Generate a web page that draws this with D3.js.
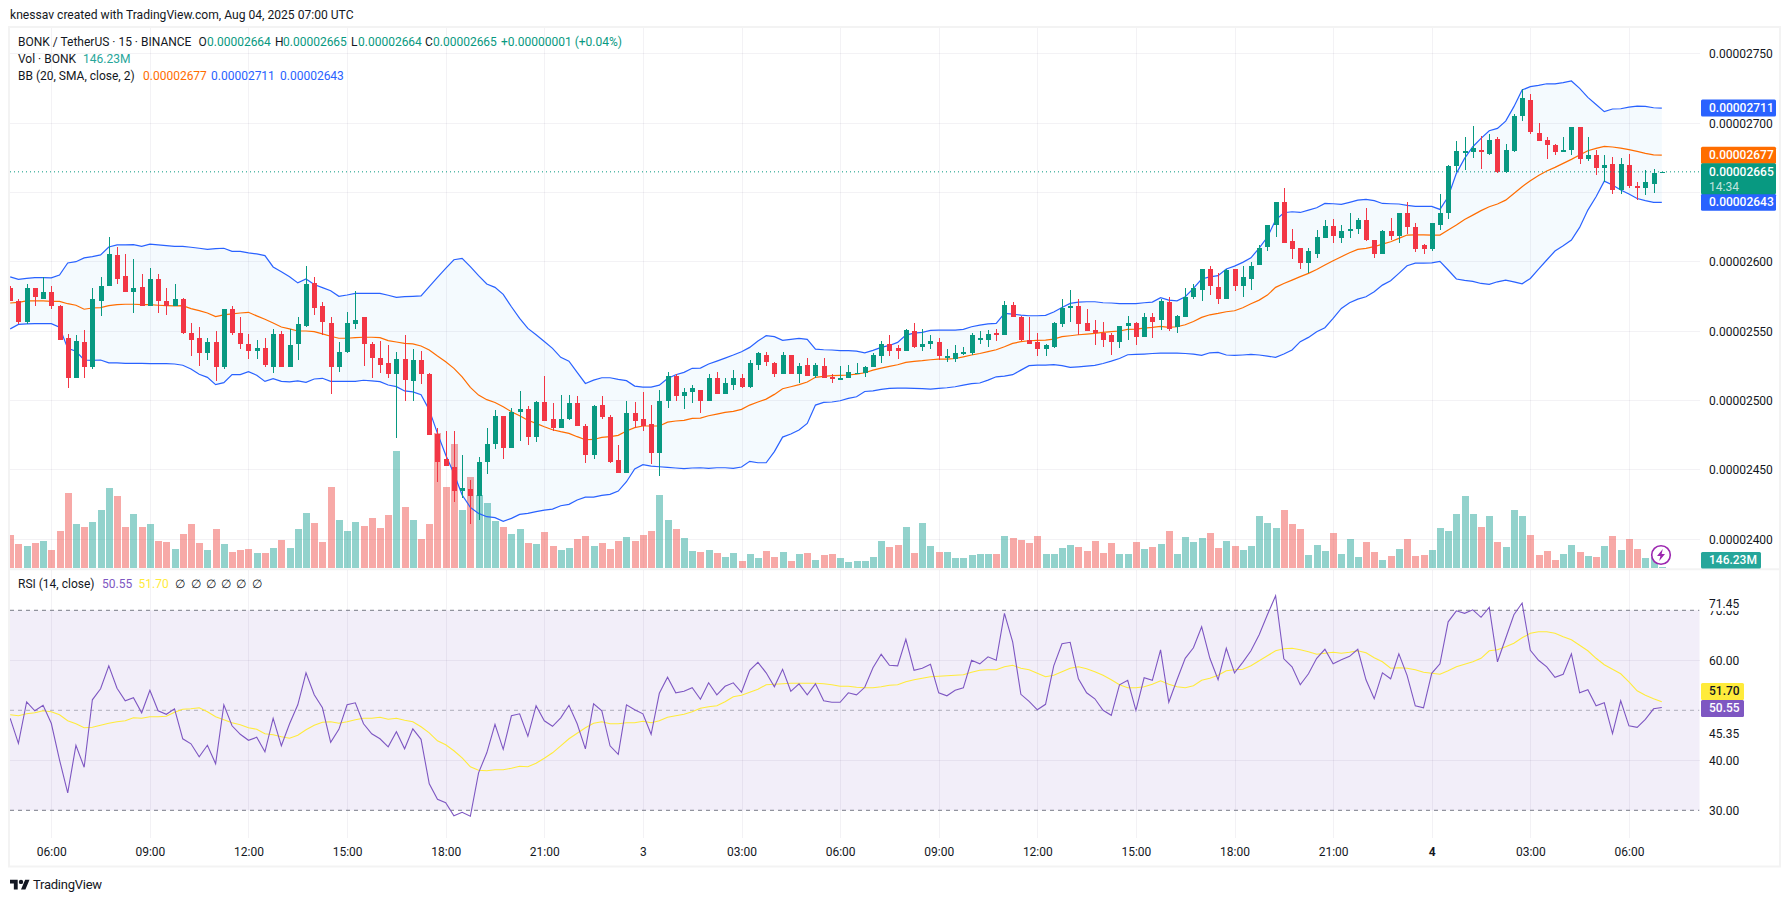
<!DOCTYPE html>
<html>
<head>
<meta charset="utf-8">
<title>BONK / TetherUS 15m</title>
<script src="https://cdnjs.cloudflare.com/ajax/libs/d3/7.8.5/d3.min.js"></script>
<style>
  html, body { margin: 0; padding: 0; background: #fff; }
  svg { display: block; }
  text { font-family: Roboto, "Noto Sans", sans-serif; }
</style>
</head>
<body>
<svg id="chart" width="1790" height="902"></svg>
<script>
// Prices are stored in units of 0.00000001 USDT; volumes in millions of BONK.
const openPrices = [
2581,2572,2557,2581,2573,2578,2568,2545,2516,2542,
2524,2572,2583,2605,2590,2578,2582,2568,2588,2572,
2568,2573,2549,2545,2534,2542,2524,2566,2549,2541,
2536,2538,2524,2548,2524,2541,2554,2585,2568,2556,
2524,2535,2555,2560,2541,2531,2527,2519,2530,2514,
2529,2519,2476,2458,2452,2435,2436,2431,2456,2469,
2489,2466,2492,2494,2474,2499,2487,2480,2487,2498,
2482,2461,2497,2488,2457,2448,2491,2487,2483,2462,
2500,2518,2503,2506,2508,2500,2516,2505,2511,2516,
2510,2526,2533,2527,2519,2533,2519,2526,2518,2525,
2517,2515,2516,2519,2520,2524,2532,2541,2538,2536,
2550,2539,2541,2542,2531,2530,2534,2534,2544,2544,
2549,2547,2569,2560,2544,2542,2537,2539,2555,2567,
2568,2556,2551,2549,2547,2542,2554,2556,2546,2560,
2558,2571,2553,2560,2575,2580,2595,2582,2573,2595,
2583,2588,2598,2611,2627,2643,2615,2610,2599,2606,
2617,2626,2617,2622,2624,2630,2616,2606,2622,2619,
2635,2625,2612,2609,2627,2635,2669,2679,2679,2681,
2678,2689,2665,2680,2705,2717,2693,2688,2684,2679,
2681,2697,2674,2677,2668,2671,2652,2670,2655,2653,
2656,2664];
const highPrices = [
2583,2573,2584,2581,2589,2583,2569,2548,2547,2551,
2581,2589,2618,2611,2606,2602,2591,2596,2591,2581,
2584,2574,2556,2553,2545,2550,2566,2568,2560,2548,
2544,2545,2552,2550,2552,2560,2597,2589,2571,2560,
2542,2564,2579,2560,2542,2543,2540,2535,2547,2537,
2536,2520,2480,2478,2478,2461,2443,2459,2480,2493,
2489,2495,2507,2496,2500,2518,2498,2504,2504,2503,
2483,2497,2503,2490,2468,2500,2499,2506,2497,2508,
2521,2519,2509,2511,2508,2519,2521,2516,2522,2519,
2529,2535,2535,2528,2535,2533,2527,2531,2527,2531,
2519,2525,2526,2527,2525,2534,2543,2547,2540,2552,
2556,2552,2547,2545,2537,2540,2539,2549,2550,2551,
2552,2572,2571,2561,2560,2549,2541,2557,2573,2580,
2573,2566,2558,2557,2549,2554,2561,2557,2563,2563,
2573,2575,2562,2581,2584,2595,2597,2592,2595,2595,
2597,2600,2612,2627,2643,2653,2624,2610,2610,2623,
2630,2631,2627,2635,2632,2639,2616,2623,2632,2635,
2643,2628,2613,2628,2649,2670,2687,2690,2698,2691,
2692,2690,2685,2707,2725,2721,2700,2690,2685,2690,
2697,2697,2690,2681,2677,2676,2675,2678,2658,2666,
2667,2665];
const lowPrices = [
2572,2555,2555,2568,2573,2566,2544,2509,2516,2516,
2523,2561,2583,2584,2578,2563,2568,2568,2563,2562,
2568,2548,2532,2525,2529,2514,2523,2547,2537,2530,
2530,2524,2520,2524,2524,2529,2553,2562,2547,2505,
2521,2534,2552,2525,2516,2520,2516,2473,2500,2500,
2512,2475,2441,2453,2427,2430,2411,2414,2447,2465,
2458,2466,2471,2468,2470,2485,2478,2480,2486,2482,
2455,2458,2487,2455,2448,2448,2480,2478,2454,2446,
2495,2500,2494,2498,2491,2500,2505,2505,2508,2509,
2509,2522,2525,2517,2519,2519,2513,2518,2516,2516,
2513,2515,2516,2519,2517,2524,2527,2532,2530,2536,
2538,2536,2537,2529,2528,2528,2533,2533,2541,2539,
2543,2547,2560,2543,2541,2532,2532,2538,2553,2557,
2547,2550,2540,2539,2533,2538,2544,2540,2546,2545,
2551,2550,2549,2560,2573,2572,2576,2570,2573,2579,
2575,2580,2598,2608,2618,2614,2602,2595,2592,2603,
2617,2614,2614,2617,2620,2615,2603,2606,2616,2614,
2620,2607,2606,2608,2623,2631,2665,2666,2675,2667,
2677,2664,2664,2679,2702,2692,2687,2674,2677,2679,
2677,2671,2673,2663,2658,2649,2649,2653,2645,2648,
2650,2664];
const closePrices = [
2572,2557,2581,2575,2578,2568,2544,2516,2543,2524,
2573,2583,2606,2588,2578,2581,2568,2588,2572,2568,
2573,2549,2544,2534,2542,2524,2566,2549,2541,2536,
2538,2526,2548,2524,2540,2555,2584,2567,2557,2524,
2535,2556,2558,2541,2531,2526,2519,2530,2515,2529,
2519,2475,2456,2453,2435,2437,2431,2456,2469,2489,
2466,2492,2494,2474,2499,2485,2480,2487,2498,2482,
2461,2496,2488,2456,2448,2491,2485,2482,2462,2500,
2518,2503,2506,2509,2500,2516,2505,2513,2516,2510,
2527,2534,2528,2519,2533,2519,2525,2518,2526,2516,
2516,2516,2521,2520,2524,2533,2541,2536,2536,2551,
2539,2541,2543,2532,2532,2534,2535,2547,2545,2548,
2547,2569,2560,2544,2541,2537,2540,2556,2567,2568,
2555,2550,2549,2544,2542,2554,2556,2546,2560,2557,
2572,2552,2561,2575,2581,2595,2583,2573,2594,2583,
2589,2597,2610,2627,2643,2614,2609,2599,2608,2618,
2626,2619,2622,2624,2630,2616,2606,2622,2619,2635,
2625,2609,2609,2628,2635,2669,2680,2680,2682,2679,
2688,2665,2681,2705,2718,2694,2687,2684,2679,2681,
2697,2674,2677,2668,2670,2652,2671,2655,2653,2658,
2664,2665];
const volumes = [
2925,2135,1960,2223,2399,1609,3276,6611,3890,3627,
4066,5119,7049,6347,3627,4768,3627,3890,2399,2311,
1697,3013,3890,2223,1609,3452,2135,1433,1609,1697,
1346,1346,1784,2486,1784,3452,4856,3978,2311,7137,
4241,3276,4066,3715,4417,3539,4680,10296,5382,4241,
2574,3890,11876,7137,10910,5119,8015,6435,5733,4154,
3627,3013,3452,2223,2135,3188,1960,1609,1784,2574,
2837,1960,2223,1697,2399,2750,2399,2925,3276,6435,
4241,3452,2662,1521,1433,1609,1346,995,1346,644,
1258,907,1521,995,1433,644,1258,1346,731,1170,
1258,907,556,644,644,995,2399,1872,2048,3627,
1346,3978,1960,1433,1433,907,907,1170,1258,1258,
1258,2837,2662,2486,2223,2837,1258,1258,1784,2048,
1872,1521,2399,1346,2223,1258,1258,2311,1697,1872,
2135,3276,1258,2750,2311,2662,3101,1784,2399,1960,
1609,1960,4592,3978,3539,5119,3890,3452,1170,2048,
1521,3101,1258,2574,995,2311,1433,731,1082,1697,
2574,1082,1170,1609,3539,3276,4768,6347,4768,3627,
4592,2311,1872,5119,4592,2925,1170,1521,731,1258,
2048,1433,1082,995,1960,2837,1609,2574,1697,907,
995,146.23];
const bbUpper = [
2589.2,2587.5,2588.2,2588.7,2588.7,2588.5,2590.6,2599.3,2600.2,2602.9,
2603.9,2605.1,2610.8,2612.3,2612.3,2612.5,2611.3,2612.8,2612.3,2611.8,
2611.3,2611.3,2610.6,2609.9,2609.1,2609.6,2609.9,2607.7,2607.7,2606.5,
2605.8,2604.6,2596.4,2593,2589.4,2584.9,2587.7,2583.7,2581.5,2579.3,
2575.2,2576.2,2577.4,2577.4,2577.4,2577.4,2576,2574.5,2575,2575.2,
2575.5,2582.2,2588.9,2595.4,2601.6,2602.6,2596.6,2590.1,2584.1,2581.7,
2576.6,2567.7,2559.3,2552.1,2547.5,2542.7,2537.7,2531.2,2528.5,2520.4,
2512.4,2514.8,2516.5,2516.5,2515.3,2514.4,2510.5,2509.8,2509.8,2511.2,
2516,2518.7,2520.4,2523.3,2523.5,2526.4,2528.5,2530.7,2532.9,2535.3,
2538.4,2543,2546.8,2546.1,2543.5,2544.2,2544.9,2544.2,2537.2,2536.7,
2536.5,2536,2536,2535.7,2534.5,2536.2,2538.4,2539.8,2542,2547.3,
2548.7,2549.2,2550.6,2550.9,2550.9,2550.9,2551.4,2553.3,2554.5,2555.4,
2555.7,2562.9,2562.4,2561.7,2561.2,2561.2,2561.5,2563.9,2567.2,2570.1,
2571.1,2571.3,2571.3,2570.6,2570.4,2569.9,2569.9,2569.9,2570.6,2571.1,
2574.2,2572.5,2572,2574.9,2580.9,2587.7,2589.3,2590.1,2594.9,2597,
2599.7,2603,2610,2618,2630.2,2635.5,2636.2,2635.7,2637.4,2639.1,
2642.2,2642,2641.5,2643,2644.6,2645.1,2644.2,2642.2,2642,2641.8,
2640.8,2640.1,2640.1,2640.1,2637.9,2647,2663.9,2674.7,2683.1,2689.1,
2694.6,2696.3,2701.6,2712,2724,2726.4,2727.3,2728.5,2728.5,2729.3,
2730.5,2725.2,2718.7,2713.6,2708.4,2710.3,2710.5,2711.7,2712.4,2712.2,
2711.2,2711];
const bbBasis = [
2570.4,2570.9,2571.9,2571.9,2571.9,2571.6,2571.6,2569.9,2568.8,2565.9,
2566.8,2567.1,2568.5,2569.2,2569.5,2569.5,2569.2,2569.2,2568.8,2568.5,
2568.3,2568.5,2566.4,2564.9,2563.2,2560.6,2561.8,2562.5,2563.2,2563.7,
2561.1,2558.7,2556,2553.1,2551.7,2550.2,2550.2,2549.8,2548.1,2546.4,
2545,2545,2545.4,2545.7,2545.7,2545.4,2543.3,2542.3,2541.3,2540.9,
2539.4,2536.5,2532.2,2528.1,2523.3,2517.2,2509.6,2504,2500.7,2498.7,
2495.6,2492,2489.1,2485.8,2483.6,2481.2,2479,2477.6,2476.4,2474,
2471.8,2472,2473.5,2474,2475,2478.1,2480.5,2481.7,2481.7,2481.7,
2484.5,2485.3,2485.8,2487.2,2487.4,2489.1,2490.3,2491.5,2492.2,2493.7,
2496.8,2499,2501.1,2504.5,2508.6,2510,2511.5,2513.4,2516.8,2517.5,
2518,2518.2,2518.5,2519.1,2520.1,2522,2523.5,2524.7,2525.9,2527.6,
2528.3,2528.8,2529.5,2530,2530,2530.4,2531.6,2532.9,2534,2535.3,
2536.7,2538.9,2541.3,2542.5,2543.2,2543.4,2543.7,2544.4,2546.1,2546.8,
2547.5,2548,2548.5,2549.2,2549.7,2550.2,2551.4,2551.6,2552.3,2552.8,
2553.5,2552.8,2553.3,2554.7,2557.1,2560,2561.9,2562.9,2564.1,2564.8,
2567,2569.9,2572.5,2576.1,2581.7,2584.5,2586.9,2589.4,2591.8,2594.6,
2597.8,2600.9,2603.8,2606.7,2609.1,2609.8,2611,2612.9,2614.6,2617,
2619.4,2619.6,2619.6,2619.4,2619.4,2623,2626.6,2630.7,2633.8,2637,
2639.8,2641.8,2644.6,2649.4,2654.3,2658.6,2662.4,2665.6,2668.2,2671.1,
2674,2677.1,2680.2,2681.9,2683.3,2682.9,2682.1,2681,2679.7,2678.3,
2677.3,2677.1];
const bbLower = [
2551.7,2555,2555.3,2555.5,2555.5,2555.5,2552.9,2537.7,2535.6,2529.3,
2529.1,2529.3,2527.2,2527.2,2526.9,2526.9,2526.9,2526.7,2526.7,2526.7,
2526.4,2525.5,2522.8,2519,2516.8,2511.5,2513,2518.8,2518.8,2520.9,
2518.3,2513.9,2515.9,2513.9,2513.5,2514.2,2513.2,2515.6,2516.1,2513.9,
2513.9,2513.9,2513.9,2514.7,2514.2,2513.7,2511.3,2510.1,2507,2506.3,
2504.3,2493.3,2476.4,2460.8,2447.5,2431.9,2423,2418.7,2416.3,2415.6,
2412.9,2415.1,2418,2418.7,2419.9,2421.1,2421.8,2424.2,2425.2,2428.3,
2430.4,2430.4,2431.7,2432.4,2434.8,2441.5,2450.7,2453.8,2452.8,2452.3,
2451.9,2451.4,2450.9,2451.4,2451.6,2451.1,2451.6,2451.6,2451.1,2452.1,
2456.2,2455.2,2455.2,2463.2,2473.7,2475.9,2478.8,2483.6,2496.8,2498.7,
2499,2499.9,2501.6,2502.8,2506.6,2507.1,2508.1,2508.8,2509,2509,
2508.8,2508.6,2508.3,2508.8,2509.3,2510,2511.2,2512.2,2512.7,2514.8,
2517.2,2517.7,2518.7,2522,2525.2,2525.6,2525.6,2525.9,2525.2,2524,
2524.4,2524.9,2525.4,2526.8,2528.5,2530.4,2533.1,2533.3,2533.6,2534,
2534.3,2534.3,2534.2,2534,2533.6,2532.6,2534.5,2534.8,2532.9,2532.6,
2532.9,2533.3,2532.9,2532.1,2531.2,2533.6,2536.5,2542.5,2545.6,2549.7,
2552.6,2559.3,2566.5,2570.6,2573.2,2574.9,2578.5,2583.3,2586.5,2591.8,
2597.3,2599.2,2599.2,2599.4,2600.4,2594.2,2587.7,2586.7,2586,2584.5,
2583.8,2585.7,2586.9,2585.7,2584.3,2588.1,2594.9,2601.4,2607.9,2611.7,
2615.8,2624.9,2637.4,2647,2658.3,2655.5,2651.9,2649,2645.8,2644.2,
2643,2643];
const rsiValues = [
48.4,43.4,51.7,49.9,51,47.4,40.1,33.5,43,38.6,
52.1,54.3,58.9,54.4,51.9,52.5,49.5,54,49.9,49.2,
50.3,44.3,43.3,40.7,43,39.3,51.1,46.9,45.2,44,
44.6,41.7,48.4,42.9,47.3,51.1,57.5,53.1,50.5,43.6,
46.2,51.1,51.5,47.3,45.3,44.3,42.7,45.7,42.3,46.3,
44.2,35.3,32.2,31.5,28.9,29.6,28.8,37.5,41.5,47.2,
42.2,48.9,49.3,44.8,50.9,47.9,46.8,48.5,51,47.3,
42.3,51.3,49.9,42.9,41.2,51.1,50.1,49.3,45.2,53.4,
56.6,53.5,53.8,54.5,52.2,55.5,53.1,54.8,55.5,53.6,
58,59.6,57.5,54.7,58.2,53.8,55.3,53.1,55.3,51.9,
51.6,51.6,53.5,53.1,54.6,58.5,61.2,59,58.9,64.2,
58,58.4,59.2,53.5,52.9,54,54.5,60,59.3,60.7,
60,69.4,63.7,53.2,51.8,50.1,51.2,58.9,63.3,63.6,
56.3,53.5,52.3,50,49,55.1,56,50,56.5,56,
62.1,51.6,56.1,60.4,62.5,66.7,60.4,56.1,62.4,57.5,
59.6,61.9,65.1,69.1,72.9,60.3,58.7,55.1,57.3,60.4,
62.2,59.3,60.1,60.8,62.2,56.1,52.3,57.5,56.3,61.3,
57,50.9,50.5,57.4,59.3,67.7,69.9,69.4,70.1,68.6,
70.6,59.7,64.4,69.1,71.45,62,60,58.7,56.6,57.2,
61.3,53.5,54.1,50.9,51.5,45.35,51.9,46.9,46.6,48.2,
50.3,50.55];
const rsiAverage = [
49.1,48.9,49.3,49.5,49.9,49.7,49.1,47.9,47.3,46.5,
46.6,47,47.4,47.7,47.9,48.5,48.4,48.7,48.7,48.8,
49.6,50.2,50.3,50.5,49.7,48.7,48.1,47.5,47.1,46.5,
46.2,45.3,45.1,44.7,44.4,45,46.1,47,47.6,47.7,
47.4,47.7,48.1,48.4,48.4,48.6,48.2,48.4,48,47.7,
46.7,45.5,43.9,43.1,41.9,40.5,38.7,38,37.9,38.1,
38.1,38.4,38.8,38.7,39.4,40.4,41.5,42.9,44.3,45.4,
46.5,47.4,47.7,47.3,47.3,47.5,47.5,47.8,47.5,47.9,
48.6,48.9,49.2,49.7,50.4,50.7,50.9,51.7,52.7,53,
53.6,54.2,55.1,55.2,55.3,55.4,55.4,55.4,55.4,55.3,
55.1,54.8,54.8,54.6,54.5,54.5,54.7,55,55.1,55.7,
56.1,56.4,56.7,56.8,56.9,57,57.1,57.6,58,58.1,
58.1,58.7,59,58.4,58.1,57.4,56.7,57,57.7,58.4,
58.7,58.3,57.7,57,56.1,55.1,54.5,54.5,54.7,55.2,
55.9,55.2,54.7,54.5,54.9,56,56.4,57,57.9,58.1,
58.2,58.9,59.9,60.9,61.9,62.3,62.4,62.1,61.7,61.2,
61.4,61.6,61.4,61.6,61.9,61.5,60.5,59.7,58.4,58.5,
58.4,58.1,57.6,57.4,57.2,57.9,58.7,59.2,59.7,60.4,
61.9,62.1,62.7,63.4,64.5,65.4,65.7,65.7,65.4,64.7,
64.1,63,61.9,60.4,59.1,58.2,57.3,55.7,53.9,53,
52.3,51.7];

const priceTicks = [2400, 2450, 2500, 2550, 2600, 2650, 2700, 2750];
const priceTickLabels = [2400, 2450, 2500, 2550, 2600, 2700, 2750];
const rsiGridLevels = [60, 40];
const rsiTickLabels = ["60.00", "45.35", "40.00", "30.00"];
const timeTickBars = [5, 17, 29, 41, 53, 65, 77, 89, 101, 113, 125, 137, 149, 161, 173, 185, 197];
const timeTickLabels = ["06:00", "09:00", "12:00", "15:00", "18:00", "21:00", "3", "03:00", "06:00", "09:00", "12:00", "15:00", "18:00", "21:00", "4", "03:00", "06:00"];

const UP = "#089981", DOWN = "#F23645", BLUE = "#2962FF", ORANGE = "#FF6D00", PURPLE = "#7E57C2", YELLOW = "#FFEB3B";
const INK = "#131722";
const paneLeft = 10, paneRight = 1699.5, paneTop = 28, mainBottom = 568.3, rsiTop = 570, rsiBottom = 838;

const bars = d3.range(openPrices.length);
const x = d3.scaleLinear().domain([0, 201]).range([10.2, 1661.8]);
const y = d3.scaleLinear().domain([2400, 2700]).range([539.3, 123.3]);
const yVol = d3.scaleLinear().domain([0, 11876]).range([mainBottom, 433]);
const yRsi = d3.scaleLinear().domain([30, 70]).range([810.3, 610.3]);
const fmtPrice = v => (v * 1e-8).toFixed(8);

const svg = d3.select("#chart");
const defs = svg.append("defs");
defs.append("clipPath").attr("id", "mainClip").append("rect")
  .attr("x", paneLeft).attr("y", paneTop).attr("width", paneRight - paneLeft).attr("height", mainBottom - paneTop);
defs.append("clipPath").attr("id", "rsiClip").append("rect")
  .attr("x", paneLeft).attr("y", rsiTop).attr("width", paneRight - paneLeft).attr("height", rsiBottom - rsiTop);

// Outer frame and pane divider
const frame = svg.append("g").attr("fill", "#f3f3f3");
frame.append("rect").attr("x", 8).attr("y", 26).attr("width", 1773).attr("height", 2);
frame.append("rect").attr("x", 8).attr("y", 865.5).attr("width", 1773).attr("height", 2);
frame.append("rect").attr("x", 8).attr("y", 26).attr("width", 2).attr("height", 841);
frame.append("rect").attr("x", 1779).attr("y", 26).attr("width", 2).attr("height", 841);
frame.append("rect").attr("x", 8).attr("y", 568.3).attr("width", 1773).attr("height", 2);

// RSI band sits under the grid so grid lines read through it
svg.append("rect").attr("x", paneLeft).attr("width", paneRight - paneLeft)
  .attr("y", yRsi(70)).attr("height", yRsi(30) - yRsi(70))
  .attr("fill", PURPLE).attr("fill-opacity", 0.1);

// Grid
const grid = svg.append("g").attr("stroke", "rgba(30,20,70,0.055)").attr("stroke-width", 1).attr("shape-rendering", "crispEdges");
grid.selectAll(".vm").data(timeTickBars).join("line")
  .attr("x1", d => Math.round(x(d)) + 0.5).attr("x2", d => Math.round(x(d)) + 0.5)
  .attr("y1", paneTop).attr("y2", mainBottom);
grid.selectAll(".vr").data(timeTickBars).join("line")
  .attr("x1", d => Math.round(x(d)) + 0.5).attr("x2", d => Math.round(x(d)) + 0.5)
  .attr("y1", rsiTop).attr("y2", rsiBottom);
grid.selectAll(".hm").data(priceTicks).join("line")
  .attr("x1", paneLeft).attr("x2", paneRight)
  .attr("y1", d => y(d)).attr("y2", d => y(d));
grid.selectAll(".hr").data(rsiGridLevels).join("line")
  .attr("x1", paneLeft).attr("x2", paneRight)
  .attr("y1", d => yRsi(d)).attr("y2", d => yRsi(d));

// Main pane: volume, Bollinger Bands, candles
const main = svg.append("g").attr("clip-path", "url(#mainClip)");

main.append("g").attr("shape-rendering", "crispEdges").selectAll("rect").data(bars).join("rect")
  .attr("x", i => Math.round(x(i)) - 3).attr("width", 7)
  .attr("y", i => yVol(volumes[i])).attr("height", i => mainBottom - yVol(volumes[i]))
  .attr("fill", i => closePrices[i] >= openPrices[i] ? "#26a69a" : "#ef5350")
  .attr("fill-opacity", 0.5);

main.append("path").attr("fill", "#2196F3").attr("fill-opacity", 0.05)
  .attr("d", d3.area().x(i => x(i)).y0(i => y(bbLower[i])).y1(i => y(bbUpper[i]))(bars));

const linePath = series => d3.line().x(i => x(i)).y(i => y(series[i]))(bars);
[[bbBasis, ORANGE], [bbUpper, BLUE], [bbLower, BLUE]].forEach(([series, color]) => {
  main.append("path").attr("fill", "none").attr("stroke", color).attr("stroke-width", 1.2).attr("d", linePath(series));
});

const candles = main.append("g").attr("shape-rendering", "crispEdges");
const candleColor = i => closePrices[i] >= openPrices[i] ? UP : DOWN;
candles.selectAll(".wick").data(bars).join("rect")
  .attr("x", i => Math.round(x(i))).attr("width", 1)
  .attr("y", i => y(highPrices[i])).attr("height", i => y(lowPrices[i]) - y(highPrices[i]))
  .attr("fill", candleColor);
candles.selectAll(".body").data(bars).join("rect")
  .attr("x", i => Math.round(x(i)) - 2).attr("width", 5)
  .attr("y", i => y(Math.max(openPrices[i], closePrices[i])))
  .attr("height", i => Math.max(1.5, Math.abs(y(openPrices[i]) - y(closePrices[i]))))
  .attr("fill", candleColor);

// Last-price line
const lastClose = closePrices[closePrices.length - 1];
svg.append("line").attr("x1", paneLeft).attr("x2", paneRight)
  .attr("y1", y(lastClose)).attr("y2", y(lastClose))
  .attr("stroke", UP).attr("stroke-width", 1).attr("stroke-dasharray", "1,3");

// RSI pane
const rsiPane = svg.append("g").attr("clip-path", "url(#rsiClip)");
[[70, 1], [50, 0.55], [30, 1]].forEach(([lvl, op]) => {
  rsiPane.append("line").attr("x1", paneLeft).attr("x2", paneRight)
    .attr("y1", yRsi(lvl)).attr("y2", yRsi(lvl))
    .attr("stroke", "#787B86").attr("stroke-opacity", op).attr("stroke-dasharray", "4,4");
});
rsiPane.append("path").attr("fill", "none").attr("stroke", YELLOW).attr("stroke-width", 1.1)
  .attr("d", d3.line().x(i => x(i)).y(i => yRsi(rsiAverage[i]))(bars));
rsiPane.append("path").attr("fill", "none").attr("stroke", PURPLE).attr("stroke-width", 1.1)
  .attr("d", d3.line().x(i => x(i)).y(i => yRsi(rsiValues[i]))(bars));

// Axes
function styleAxis(g) {
  g.select(".domain").remove();
  g.selectAll("line").remove();
  g.selectAll("text").attr("font-size", 12).attr("fill", INK).attr("font-family", "Roboto, sans-serif");
}
svg.append("g").attr("transform", "translate(1709,0)")
  .call(d3.axisRight(y).tickValues(priceTickLabels).tickFormat(fmtPrice).tickSize(0).tickPadding(0))
  .call(styleAxis);

const yRsiText = svg.append("g").attr("transform", "translate(1709,0.6)");
yRsiText.append("text").attr("y", yRsi(70)).attr("dy", "0.32em").attr("font-size", 12).attr("fill", INK).text("70.00");
yRsiText.append("rect").attr("x", -2).attr("y", 596).attr("width", 45).attr("height", 14.5).attr("fill", "#fff");
yRsiText.append("text").attr("y", 603.5).attr("dy", "0.32em").attr("font-size", 12).attr("fill", INK).text("71.45");
yRsiText.selectAll(".t").data(rsiTickLabels).join("text")
  .attr("y", d => yRsi(+d)).attr("dy", "0.32em").attr("font-size", 12).attr("fill", INK).text(d => d);

const timeAxis = d3.axisBottom(x).tickValues(timeTickBars)
  .tickFormat((d, i) => timeTickLabels[i]).tickSize(0).tickPadding(0);
svg.append("g").attr("transform", "translate(0,847.5)").call(timeAxis).call(styleAxis)
  .selectAll("text").attr("font-weight", (d, i) => timeTickLabels[i] === "4" ? 700 : 400);

// Value badges on the price scales; labels that would collide are stacked
function badge(yTop, h, w, fill, label, color) {
  const g = svg.append("g");
  g.append("rect").attr("x", 1701).attr("y", yTop).attr("width", w).attr("height", h).attr("rx", 1.5).attr("fill", fill);
  g.append("text").attr("x", 1709).attr("y", yTop + 8.5).attr("dy", "0.32em")
    .attr("font-size", 12).attr("font-weight", 500).attr("fill", color).text(label);
  return g;
}
badge(y(2711) - 8.5, 17, 75, BLUE, fmtPrice(2711), "#fff");
badge(y(2643) - 8.5, 17, 75, BLUE, fmtPrice(2643), "#fff");
badge(y(2677) - 8.5, 17, 75, ORANGE, fmtPrice(2677), "#fff");
const last = badge(y(lastClose) - 8.5, 31, 75, UP, fmtPrice(lastClose), "#fff");
last.append("text").attr("x", 1709).attr("y", y(lastClose) + 15).attr("dy", "0.32em")
  .attr("font-size", 12).attr("fill", "#fff").attr("fill-opacity", 0.75).text("14:34");
badge(552, 16.5, 60, "#26A69A", "146.23M", "#fff");
const rsiBadgeSplit = yRsi(50.55) - 7.5;
badge(rsiBadgeSplit - 17, 17, 43, YELLOW, "51.70", INK);
badge(rsiBadgeSplit, 17, 43, PURPLE, "50.55", "#fff");

// Replay shortcut glyph at the end of the volume bars
const bolt = svg.append("g").attr("transform", "translate(1661,555)");
bolt.append("circle").attr("r", 9.3).attr("fill", "#fff").attr("stroke", "#9C27B0").attr("stroke-width", 1.6);
bolt.append("path").attr("d", "M1.8,-6 L-4,1 L-0.6,1 L-1.8,6 L4,-1 L0.6,-1 Z").attr("fill", "#9C27B0");

// Legends
const legend = (px, py, str, color, size) => svg.append("text").attr("x", px).attr("y", py).attr("dy", "0.35em")
  .attr("font-size", size || 12).attr("fill", color || INK).text(str);

legend(10, 14.5, "knessav created with TradingView.com, Aug 04, 2025 07:00 UTC", INK, 12.1);
legend(18, 41.7, "BONK / TetherUS · 15 · BINANCE");
[[198.5, "O", 207, 2664], [275, "H", 283, 2665], [351, "L", 358, 2664], [425, "C", 433, 2665]].forEach(([lx, k, vx, v]) => {
  legend(lx, 41.7, k);
  legend(vx, 41.7, fmtPrice(v), UP);
});
legend(501, 41.7, "+0.00000001 (+0.04%)", UP);
legend(18, 59, "Vol · BONK");
legend(83, 59, "146.23M", "#26A69A");
legend(18, 75.7, "BB (20, SMA, close, 2)");
legend(143, 75.7, fmtPrice(2677), ORANGE);
legend(211, 75.7, fmtPrice(2711), BLUE);
legend(280, 75.7, fmtPrice(2643), BLUE);
legend(18, 584, "RSI (14, close)");
legend(102, 584, "50.55", PURPLE);
legend(138.5, 584, "51.70", YELLOW);
[175, 191, 206, 221, 236, 252].forEach(px => legend(px, 584, "∅", INK, 12).attr("font-family", "Liberation Sans, DejaVu Sans"));

// Wordmark
const mark = svg.append("g").attr("transform", "translate(10,877.5) scale(0.55)").attr("fill", INK);
mark.append("path").attr("d", "M14 22H7V11H0V4h14v18zM28 22h-8l7.5-18h8L28 22z");
mark.append("circle").attr("cx", 20).attr("cy", 8).attr("r", 4);
legend(33, 884, "TradingView", INK, 13).attr("letter-spacing", "-0.25");
</script>
</body>
</html>
